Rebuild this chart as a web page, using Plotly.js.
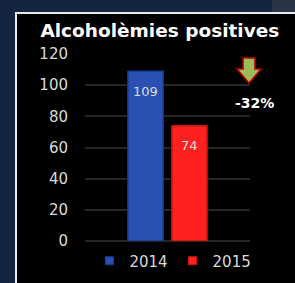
<!DOCTYPE html>
<html>
<head>
<meta charset="utf-8">
<script src="https://cdn.plot.ly/plotly-3.0.1.min.js"></script>
<style>
html,body{margin:0;padding:0;width:295px;height:283px;overflow:hidden;background:#13253f;}
#panel{position:absolute;left:15px;top:12px;width:280px;height:271px;background:#000;border-left:2px solid #e6ecf4;border-top:2px solid #e6ecf4;}
#corner{position:absolute;left:272px;top:0;width:23px;height:12px;background:#2b3446;}
#chart{position:absolute;left:0;top:0;width:295px;height:283px;}
</style>
</head>
<body>
<div id="corner"></div>
<div id="panel"></div>
<div id="chart"></div>
<script>
const chartTitle = "Alcoholèmies positives";
const categories = ["Alcoholèmies positives"];
const seriesNames = ["2014", "2015"];
const values2014 = [109];
const values2015 = [74];
const seriesColors = ["#2a50b4", "#ff2020"];
const lineColors = ["#1b3a96", "#d01010"];
const yTicks = [0, 20, 40, 60, 80, 100, 120];

const seriesValues = [values2014, values2015];
const traces = seriesNames.map((name, i) => ({
  type: "bar",
  name: name,
  x: categories,
  y: seriesValues[i],
  marker: {color: seriesColors[i], line: {color: lineColors[i], width: 1.5}},
  showlegend: false,
  hoverinfo: "skip"
}));
seriesNames.forEach((name, i) => traces.push({
  type: "scatter", mode: "markers", name: name,
  x: [categories[0]], y: [null],
  marker: {symbol: "square", size: 8, color: seriesColors[i], line: {color: lineColors[i], width: 1}},
  showlegend: true, hoverinfo: "skip"
}));

const change = Math.round((values2015[0] - values2014[0]) / values2014[0] * 100);

const annotations = seriesValues.map((vals, i) => ({
  x: categories[0], y: vals[0], xref: "x", yref: "y",
  text: String(vals[0]), showarrow: false,
  xshift: (i === 0 ? -22 : 22), yshift: -20, yanchor: "middle",
  font: {family: "DejaVu Sans", size: 13, color: "#dcdcdc"}
}));
annotations.push({
  xref: "paper", yref: "paper", x: 1.03, y: 0.74, xanchor: "center", yanchor: "middle",
  text: "<b>" + change + "%</b>", showarrow: false,
  font: {family: "DejaVu Sans", size: 14, color: "#ffffff"}
});

const arrowPath = "M0.958,0.979 L1.03,0.979 L1.03,0.92 L1.067,0.92 L0.994,0.845 L0.921,0.92 L0.958,0.92 Z";

const layout = {
  width: 295, height: 283,
  margin: {l: 85, r: 45, t: 54, b: 42, autoexpand: false},
  paper_bgcolor: "rgba(0,0,0,0)",
  plot_bgcolor: "rgba(0,0,0,0)",
  title: {
    text: "<b>" + chartTitle + "</b>",
    xref: "container", yref: "container", x: 0.542, y: 0.893,
    xanchor: "center", yanchor: "middle",
    font: {family: "DejaVu Sans", size: 18.5, color: "#ffffff"}
  },
  barmode: "group",
  bargap: 0.467,
  bargroupgap: 0.2,
  xaxis: {showticklabels: false, showgrid: false, zeroline: false, showline: false},
  yaxis: {
    range: [0, 120], tickvals: yTicks, ticktext: yTicks.map(String),
    showgrid: true, gridcolor: "#262626", gridwidth: 2,
    zeroline: true, zerolinecolor: "#262626", zerolinewidth: 2,
    showline: false, ticks: "outside", ticklen: 13, tickcolor: "rgba(0,0,0,0)",
    tickfont: {family: "DejaVu Sans", size: 15, color: "#d9d9d9"}
  },
  showlegend: true,
  legend: {
    orientation: "h", xref: "container", yref: "container",
    x: 0.303, y: 0.136, xanchor: "left", yanchor: "top",
    font: {family: "DejaVu Sans", size: 15, color: "#d9d9d9"},
    bgcolor: "rgba(0,0,0,0)", borderwidth: 0, tracegroupgap: 0
  },
  annotations: annotations,
  shapes: [{
    type: "path", xref: "paper", yref: "paper", path: arrowPath,
    fillcolor: "#9bbb59", line: {color: "#c00000", width: 1.5}
  }]
};

Plotly.newPlot("chart", traces, layout, {displayModeBar: false, staticPlot: true});
</script>
</body>
</html>
